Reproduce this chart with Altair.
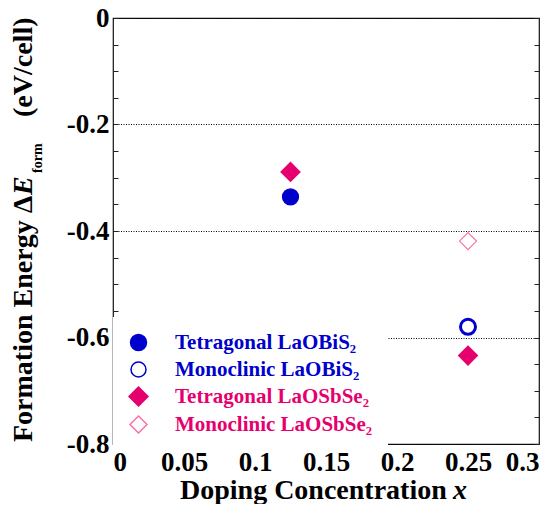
import altair as alt
import pandas as pd

# ---- data ----
series = ["Tetragonal LaOBiS₂", "Monoclinic LaOBiS₂", "Tetragonal LaOSbSe₂", "Monoclinic LaOSbSe₂"]
point_series = ["Tetragonal LaOBiS₂", "Tetragonal LaOSbSe₂", "Monoclinic LaOBiS₂", "Tetragonal LaOSbSe₂", "Monoclinic LaOSbSe₂"]
point_x = [0.125, 0.125, 0.25, 0.25, 0.25]
point_y = [-0.336, -0.289, -0.580, -0.634, -0.419]

x_ticks = [0, 0.05, 0.1, 0.15, 0.2, 0.25, 0.3]
y_ticks = [0, -0.2, -0.4, -0.6, -0.8]
y_minor = [0, -0.05, -0.1, -0.15, -0.2, -0.25, -0.3, -0.35, -0.4, -0.45, -0.5, -0.55, -0.6, -0.65, -0.7, -0.75, -0.8]

# ---- styles ----
BLUE = "#0000CC"
PINK = "#E6006E"
LPINK = "#FF6FA8"
fill_colors = [BLUE, "white", PINK, "white"]
stroke_colors = [BLUE, BLUE, PINK, LPINK]
shapes = ["circle", "circle", "diamond", "diamond"]
sizes = [256, 225, 361, 289]

FONT = "Liberation Serif"
W = 426
H = 426

df = pd.DataFrame({"series": point_series, "x": point_x, "y": point_y})

yscale = alt.Scale(domain=[-0.8, 0], nice=False, zero=False)
xscale = alt.Scale(domain=[0, 0.3], nice=False, zero=False)

leg = dict(
    title=None,
    orient="none",
    legendX=0,
    legendY=299,
    fillColor="white",
    padding=15,
    rowPadding=4,
    labelOffset=26,
    labelFont=FONT,
    labelFontSize=21,
    labelFontWeight="bold",
    labelLimit=400,
    labelExpr="datum.label + '\u2003'",
    symbolStrokeWidth=1.5,
    labelColor=alt.ExprRef(expr="indexof(datum.label, 'BiS') >= 0 ? '%s' : '%s'" % (BLUE, PINK)),
)

points = alt.Chart(df).mark_point(filled=True, opacity=1).encode(
    x=alt.X("x:Q", scale=xscale, axis=alt.Axis(
        values=x_ticks, labelExpr="toString(datum.value)", ticks=False, tickSize=0,
        domain=False, grid=False, title=None, labelFont=FONT, labelFontSize=27,
        labelFontWeight="bold", labelColor="black", labelPadding=5)),
    y=alt.Y("y:Q", scale=yscale, axis=alt.Axis(
        orient="left", values=y_ticks, labelExpr="toString(datum.value)", ticks=False,
        tickSize=0, domain=False, grid=True, gridDash=[1, 1.5], gridColor="#000",
        gridWidth=1, title=None, labelFont=FONT, labelFontSize=27,
        labelFontWeight="bold", labelColor="black", labelPadding=4)),
    fill=alt.Fill("series:N", scale=alt.Scale(domain=series, range=fill_colors), legend=alt.Legend(**leg)),
    stroke=alt.Stroke("series:N", scale=alt.Scale(domain=series, range=stroke_colors), legend=alt.Legend(**leg)),
    shape=alt.Shape("series:N", scale=alt.Scale(domain=series, range=shapes), legend=alt.Legend(**leg)),
    size=alt.Size("series:N", scale=alt.Scale(type="ordinal", domain=series, range=sizes), legend=alt.Legend(**leg)),
    strokeWidth=alt.condition(alt.datum.series == "Monoclinic LaOBiS₂", alt.value(3), alt.value(1.2)),
)

ticks_left = alt.Chart(df).mark_point(opacity=0).encode(
    y=alt.Y("y:Q", scale=yscale, axis=alt.Axis(
        orient="right", offset=-W, values=y_minor, labels=False, ticks=True, tickSize=5,
        tickColor="#222", domain=False, grid=False, title=None)))

ticks_right = alt.Chart(df).mark_point(opacity=0).encode(
    y=alt.Y("y:Q", scale=yscale, axis=alt.Axis(
        orient="left", offset=-W, values=y_minor, labels=False, ticks=True, tickSize=5,
        tickColor="#222", domain=False, grid=False, title=None)))

one = pd.DataFrame({"k": [0]})


def label(text, x, y, size=28, style="normal", angle=0):
    return alt.Chart(one).mark_text(
        text=text, angle=angle, align="left", baseline="alphabetic", font=FONT,
        fontSize=size, fontWeight="bold", fontStyle=style, color="black",
    ).encode(x=alt.value(x), y=alt.value(y))


texts = [
    label("Formation Energy Δ", -81, 424, angle=270),
    label("E", -81, 177, style="italic", angle=270),
    label("form", -71, 155, size=14, angle=270),
    label("(eV/cell)", -81, 99, angle=270),
    label("Doping Concentration", 67, 481),
    label("x", 340, 481, style="italic"),
]

chart = alt.layer(points, ticks_left, ticks_right, *texts).resolve_scale(
    y="independent"
).properties(
    width=W,
    height=H,
    autosize=alt.AutoSizeParams(type="none"),
    padding={"left": 105, "top": 10, "right": 4, "bottom": 60},
    background="white",
).configure_view(stroke="#111", strokeWidth=1.2)

chart.save("out.html", embed_options={"renderer": "svg", "actions": False})
